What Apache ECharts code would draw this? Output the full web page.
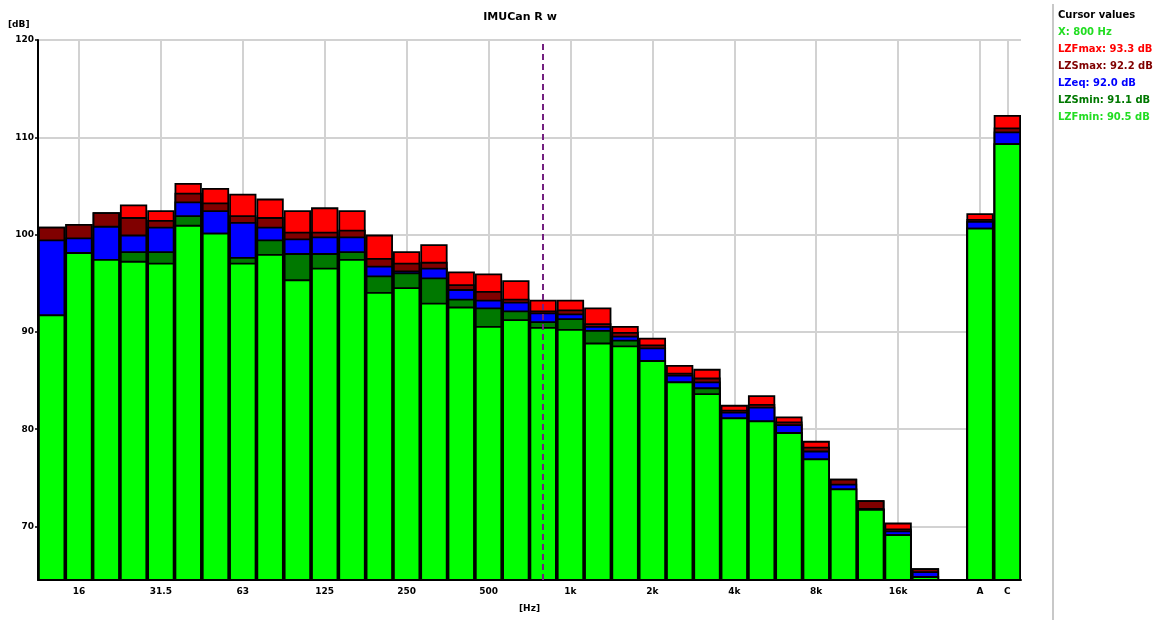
<!DOCTYPE html>
<html>
<head>
<meta charset="utf-8">
<title>IMUCan R w</title>
<script src="https://cdn.jsdelivr.net/npm/echarts@6/dist/echarts.min.js"></script>
<style>
  html, body { margin: 0; padding: 0; background: #fff; }
  #chart { width: 1163px; height: 620px; }
</style>
</head>
<body>
<div id="chart"></div>
<script>
// 1/3-octave bands, an empty slot, then the A and C weighted totals
const bands = ['12.5','16','20','25','31.5','40','50','63','80','100','125','160','200','250','315','400','500','630','800','1k','1.25k','1.6k','2k','2.5k','3.15k','4k','5k','6.3k','8k','10k','12.5k','16k','20k','','A','C'];

// Labelled (octave) positions on the frequency axis
const tickLabels = ['16','31.5','63','125','250','500','1k','2k','4k','8k','16k','A','C'];

// Y axis labels in dB
const yLabels = [70, 80, 90, 100, 110, 120];

// Levels per band, dB
const lzFmax = [100.8,101.1,102.3,103.1,102.5,105.3,104.8,104.2,103.7,102.5,102.8,102.5,100.0,98.3,99.0,96.2,96.0,95.3,93.3,93.3,92.5,90.6,89.4,86.6,86.2,82.5,83.5,81.3,78.8,74.9,72.7,70.4,65.7,null,102.2,112.3];
const lzSmax = [100.8,101.1,102.3,101.8,101.5,104.3,103.3,102.0,101.8,100.3,100.3,100.5,97.6,97.1,97.2,94.9,94.2,93.4,92.2,92.3,90.9,90.0,88.7,85.8,85.3,82.0,82.6,80.8,78.2,74.9,72.7,69.8,65.7,null,101.6,111.0];
const lzEq   = [99.5,99.7,100.9,100.0,100.8,103.4,102.5,101.3,100.8,99.6,99.8,99.8,96.8,96.3,96.6,94.4,93.3,93.1,92.0,91.9,90.6,89.6,88.4,85.6,84.9,81.8,82.3,80.5,77.8,74.4,71.9,69.6,65.4,null,101.4,110.6];
const lzSmin = [91.8,98.2,97.5,98.3,98.3,102.0,100.2,97.7,99.5,98.1,98.1,98.3,95.8,96.1,95.6,93.4,92.5,92.2,91.1,91.4,90.2,89.2,87.1,84.9,84.3,81.2,80.9,79.7,77.0,73.9,71.8,69.2,64.9,null,100.7,109.4];
const lzFmin = [91.8,98.2,97.5,97.3,97.1,101.0,100.2,97.1,98.0,95.4,96.6,97.5,94.1,94.6,93.0,92.6,90.6,91.3,90.5,90.3,88.9,88.6,87.1,84.9,83.7,81.2,80.9,79.7,77.0,73.9,71.8,69.2,64.9,null,100.7,109.4];

// Cursor position
const cursorBand = '800';
const cursorUnit = 'Hz';

const FONT = '"DejaVu Sans", sans-serif';
const colors = {
  fmax: '#ff0000',
  smax: '#800000',
  eq: '#0000ff',
  smin: '#007800',
  fmin: '#00ff00'
};

const ci = bands.indexOf(cursorBand);
const cursorLines = [
  { text: 'Cursor values', color: '#000000' },
  { text: 'X: ' + cursorBand + ' ' + cursorUnit, color: '#22dd22' },
  { text: 'LZFmax: ' + lzFmax[ci].toFixed(1) + ' dB', color: colors.fmax },
  { text: 'LZSmax: ' + lzSmax[ci].toFixed(1) + ' dB', color: colors.smax },
  { text: 'LZeq: ' + lzEq[ci].toFixed(1) + ' dB', color: colors.eq },
  { text: 'LZSmin: ' + lzSmin[ci].toFixed(1) + ' dB', color: colors.smin },
  { text: 'LZFmin: ' + lzFmin[ci].toFixed(1) + ' dB', color: '#22dd22' }
];

const isLabelled = (idx, val) => tickLabels.indexOf(val) >= 0;

function barSeries(name, data, color, extra) {
  return Object.assign({
    name: name,
    type: 'bar',
    data: data,
    barGap: '-100%',
    barCategoryGap: '0%',
    z: 2,
    itemStyle: { color: color, borderColor: '#000', borderWidth: 1.8 },
    emphasis: { disabled: true },
    animation: false
  }, extra || {});
}

const chart = echarts.init(document.getElementById('chart'), null, { renderer: 'canvas' });

const graphics = [
  { type: 'text', left: 8, top: 20, style: { text: '[dB]', font: 'bold 9px ' + FONT, fill: '#000' } },
  { type: 'line', shape: { x1: 1053, y1: 4, x2: 1053, y2: 620 }, style: { stroke: '#c8c8c8', lineWidth: 2 } }
];
cursorLines.forEach((l, i) => {
  graphics.push({
    type: 'text', left: 1058, top: 10 + i * 17,
    style: { text: l.text, font: 'bold 10px ' + FONT, fill: l.color }
  });
});

chart.setOption({
  backgroundColor: '#ffffff',
  animation: false,
  title: {
    text: 'IMUCan R w',
    left: 515, top: 7, textAlign: 'center',
    textStyle: { fontFamily: FONT, fontSize: 11, fontWeight: 'bold', color: '#000' }
  },
  grid: { left: 38, right: 142, top: 40, bottom: 40, containLabel: false },
  xAxis: {
    type: 'category',
    data: bands,
    boundaryGap: true,
    name: '[Hz]',
    nameLocation: 'middle',
    nameGap: 24,
    nameTextStyle: { fontFamily: FONT, fontSize: 9, fontWeight: 'bold', color: '#000' },
    axisLine: { lineStyle: { color: '#000', width: 2 } },
    axisTick: { alignWithLabel: true, interval: isLabelled, length: 4, lineStyle: { color: '#000', width: 1.5 } },
    axisLabel: { interval: isLabelled, fontFamily: FONT, fontSize: 9, fontWeight: 'bold', color: '#000', margin: 7 },
    splitLine: { show: false }
  },
  yAxis: {
    type: 'value',
    min: 64.5,
    max: 120,
    splitNumber: 5,
    axisLine: { show: true, lineStyle: { color: '#000', width: 2 } },
    axisTick: { show: true, length: 3, customValues: yLabels, lineStyle: { color: '#000', width: 1.5 } },
    axisLabel: { customValues: yLabels, showMinLabel: true, showMaxLabel: true, fontFamily: FONT, fontSize: 9, fontWeight: 'bold', color: '#000', margin: 4 },
    splitLine: { show: true, lineStyle: { color: '#d2d2d2', width: 2 } }
  },
  series: [
    {
      // vertical grid lines at the labelled bands
      type: 'line',
      data: bands.map(() => null),
      z: 1,
      silent: true,
      animation: false,
      markLine: {
        z: 1,
        silent: true,
        symbol: 'none',
        label: { show: false },
        lineStyle: { color: '#d2d2d2', width: 2, type: 'solid' },
        data: tickLabels.map(t => ({ xAxis: t }))
      }
    },
    barSeries('LZFmax', lzFmax, colors.fmax),
    barSeries('LZSmax', lzSmax, colors.smax),
    barSeries('LZeq', lzEq, colors.eq),
    barSeries('LZSmin', lzSmin, colors.smin),
    barSeries('LZFmin', lzFmin, colors.fmin, {
      markLine: {
        silent: true,
        symbol: 'none',
        label: { show: false },
        lineStyle: { color: '#742080', width: 2, type: [6, 4] },
        data: [{ xAxis: cursorBand }]
      }
    })
  ],
  graphic: graphics
});
</script>
</body>
</html>
